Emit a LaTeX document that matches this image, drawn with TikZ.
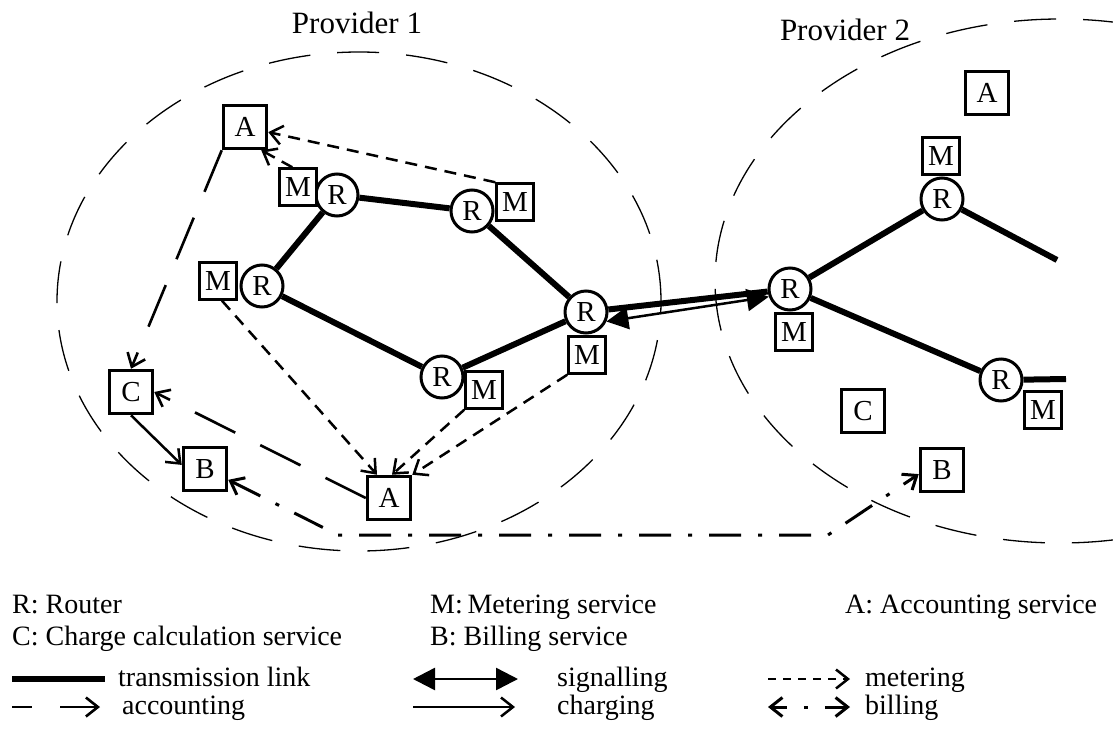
\documentclass[tikz,border=0pt]{standalone}
\usepackage{fontspec}
\setmainfont{Liberation Serif}
\usetikzlibrary{arrows.meta}
\tikzset{
  openhead/.tip={Straight Barb[length=12pt,width=19pt]},
  solidhead/.tip={Triangle[length=22pt,width=22pt]},
}
\begin{document}
\begin{tikzpicture}[x=1pt,y=-1pt,
  every node/.style={font=\fontsize{29}{32}\selectfont},
  svc/.style={draw,line width=3pt,minimum size=43.5pt,inner sep=0pt,fill=white},
  mbox/.style={draw,line width=3pt,minimum size=36.5pt,inner sep=0pt,fill=white},
  router/.style={draw,circle,line width=3pt,minimum size=42pt,inner sep=0pt,fill=white},
  title/.style={font=\fontsize{31}{34}\selectfont},
  legend/.style={font=\fontsize{28}{32}\selectfont,anchor=base west,inner sep=0pt},
  link/.style={line width=6pt},
  zone/.style={line width=1.3pt,dash pattern=on 42pt off 27pt},
  meter/.style={line width=2.5pt,dash pattern=on 12pt off 8pt,-{openhead}},
  account/.style={line width=2.6pt,dash pattern=on 45pt off 28pt,-{openhead}},
  charge/.style={line width=2.5pt,-{openhead}},
  bill/.style={line width=3pt,dash pattern=on 32pt off 17pt on 4pt off 17pt,{openhead}-{openhead}},
  signal/.style={line width=2.5pt,{solidhead}-{solidhead}},
]
\useasboundingbox (0,0) rectangle (1113,747);

% provider zones
\begin{scope}
  \clip (0,0) rectangle (1113,747);
  \draw[zone] (359,301.5) ellipse [x radius=302pt,y radius=249.5pt];
  \draw[zone] (1060,281) ellipse [x radius=345pt,y radius=262pt];
\end{scope}
\node[title] (p1) at (357,23) {Provider 1};
\node[title] (p2) at (845,30) {Provider 2};

% provider 1
\node[svc] (A1) at (245,127) {A};
\node[router] (R1) at (337,195) {R};
\node[mbox] (M1) at (298,187) {M};
\node[router] (R2) at (472,211) {R};
\node[mbox] (M2) at (515,202) {M};
\node[router] (R3) at (262,286) {R};
\node[mbox] (M3) at (218,281) {M};
\node[router] (R4) at (442,377) {R};
\node[mbox] (M4) at (484,390) {M};
\node[router] (R5) at (586,312) {R};
\node[mbox] (M5) at (587,355) {M};
\node[svc] (C1) at (131,392) {C};
\node[svc] (B1) at (205,469) {B};
\node[svc] (A2) at (389,498) {A};

% provider 2
\node[svc] (A3) at (987,93) {A};
\node[mbox] (M6) at (941,156) {M};
\node[router] (R7) at (942,199) {R};
\node[router] (R6) at (790,289) {R};
\node[mbox] (M7) at (794,332) {M};
\node[router] (R8) at (1001,380) {R};
\node[mbox] (M8) at (1043,410) {M};
\node[svc] (C2) at (863,411) {C};
\node[svc] (B2) at (942,470) {B};
\coordinate (e1) at (1057,260);
\coordinate (e2) at (1066,379);

% transmission links
\draw[link] (R3) -- (R1);
\draw[link] (R1) -- (R2);
\draw[link] (R2) -- (R5);
\draw[link] (R3) -- (R4);
\draw[link] (R4) -- (R5);
\draw[link] (R5) -- (R6);
\draw[link] (R6) -- (R7);
\draw[link] (R6) -- (R8);
\draw[link] (R7) -- (e1);
\draw[link] (R8) -- (e2);

% signalling between the providers
\draw[signal] (R5.-25) -- (R6.-160);

% metering
\draw[meter] (M2.north west) -- (A1);
\draw[meter] ([xshift=14pt]M1.north west) -- (A1.-55);
\draw[meter] ([xshift=4pt]M3.south) -- ([xshift=-12pt]A2.north);
\draw[meter] (M4.south west) -- ([xshift=3pt]A2.north);
\draw[meter] (M5.south west) -- (A2.north east);

% accounting
\draw[account] (A1.south west) -- (C1.north);
\draw[account] (A2.west) -- (C1.east);

% charging
\draw[charge] (C1.south) -- (B1.170);

% billing
\coordinate (b1) at (338,535);
\coordinate (b2) at (828,535);
\draw[bill] (B1.-25) -- (b1) -- (b2) -- (B2.190);

% legend
\node[legend] (k1) at (12,613) {R: Router};
\node[legend] (k2) at (12,645) {C: Charge calculation service};
\node[legend] (k3) at (430,613) {M:\,Metering service};
\node[legend] (k4) at (430,645) {B: Billing service};
\node[legend] (k5) at (845,613) {A: Accounting service};

\coordinate (t1) at (12,679);   \coordinate (t2) at (105,679);
\node[legend] (t3) at (118,686) {transmission link};
\coordinate (s1) at (413,679);  \coordinate (s2) at (518,679);
\node[legend] (s3) at (557,686) {signalling};
\coordinate (m1) at (768,679);  \coordinate (m2) at (850,679);
\node[legend] (m3) at (865,686) {metering};
\coordinate (a1) at (12,707);   \coordinate (a2) at (100,707);
\node[legend] (a3) at (122,714) {accounting};
\coordinate (c1) at (413,707);  \coordinate (c2) at (515,707);
\node[legend] (c3) at (557,714) {charging};
\coordinate (g1) at (768,707);  \coordinate (g2) at (850,707);
\node[legend] (g3) at (865,714) {billing};

\draw[link] (t1) -- (t2);
\draw[signal] (s1) -- (s2);
\draw[meter,dash pattern=on 8pt off 7pt] (m1) -- (m2);
\draw[account,dash phase=25pt] (a1) -- (a2);
\draw[charge] (c1) -- (c2);
\draw[bill,dash phase=17pt] (g1) -- (g2);
\end{tikzpicture}
\end{document}
